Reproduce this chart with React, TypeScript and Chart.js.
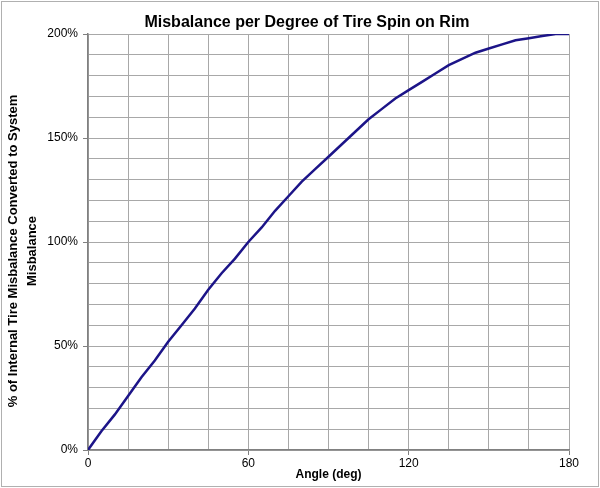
import React, { useEffect, useRef } from "react";
import { Chart, registerables } from "chart.js";

Chart.register(...registerables);

const angles = [0, 5, 10, 15, 20, 25, 30, 35, 40, 45, 50, 55, 60, 65, 70, 75, 80, 85, 90, 95, 100, 105, 110, 115, 120, 125, 130, 135, 140, 145, 150, 155, 160, 165, 170, 175, 180];
const misbalance = [0, 9, 17, 26, 35, 43, 52, 60, 68, 77, 85, 92, 100, 107, 115, 122, 129, 135, 141, 147, 153, 159, 164, 169, 173, 177, 181, 185, 188, 191, 193, 195, 197, 198, 199, 200, 200];
const xLabeled = [0, 60, 120, 180];
const yLabeled = [0, 50, 100, 150, 200];
const titleText = "Misbalance per Degree of Tire Spin on Rim";
const xTitle = "Angle (deg)";
const yTitle = ["% of Internal Tire Misbalance Converted to System", "Misbalance"];

const FONT = "'Liberation Sans', Arial, sans-serif";

const decorPlugin = {
  id: "decor",
  afterDraw(chart: any) {
    const ctx = chart.ctx;
    ctx.save();
    // outer border
    ctx.strokeStyle = "#b0b0b0";
    ctx.lineWidth = 1;
    ctx.strokeRect(1.5, 1.5, chart.width - 3, chart.height - 3);
    // chart title
    ctx.fillStyle = "#000";
    ctx.font = `bold 16px ${FONT}`;
    ctx.textAlign = "center";
    ctx.textBaseline = "alphabetic";
    ctx.fillText(titleText, 307, 27);
    // y axis title (two rotated lines)
    ctx.font = `bold 13px ${FONT}`;
    const cy = 251;
    const baselines = [17, 36];
    yTitle.forEach((line, i) => {
      ctx.save();
      ctx.translate(baselines[i], cy);
      ctx.rotate(-Math.PI / 2);
      ctx.fillText(line, 0, 0);
      ctx.restore();
    });
    ctx.restore();
  },
};

export default function App() {
  const ref = useRef<HTMLCanvasElement>(null);
  useEffect(() => {
    if (!ref.current) return;
    const chart = new Chart(ref.current, {
      type: "line",
      data: {
        datasets: [
          {
            data: angles.map((a, i) => ({ x: a, y: misbalance[i] })),
            borderColor: "#1c1488",
            borderWidth: 2.5,
            pointRadius: 0,
            tension: 0,
            fill: false,
          },
        ],
      },
      options: {
        animation: false,
        responsive: false,
        devicePixelRatio: 1,
        layout: { padding: { top: 34, left: 2, right: 31, bottom: 2 } },
        plugins: {
          legend: { display: false },
          tooltip: { enabled: false },
          title: { display: false },
        },
        scales: {
          x: {
            type: "linear",
            min: 0,
            max: 180,
            afterFit: (s: any) => {
              s.height = 36;
            },
            ticks: {
              stepSize: 15,
              autoSkip: false,
              maxRotation: 0,
              padding: 1,
              color: "#000",
              font: { family: FONT, size: 12 },
              callback: (v: any) => (xLabeled.includes(Number(v)) ? String(v) : ""),
            },
            grid: {
              color: "#a8a8a8",
              lineWidth: 1,
              tickLength: 5,
              tickColor: (c: any) => (c.tick && xLabeled.includes(c.tick.value) ? "#808080" : "rgba(0,0,0,0)"),
            },
            border: { color: "#808080", width: 1.5 },
            title: {
              display: true,
              text: xTitle,
              color: "#000",
              font: { family: FONT, size: 12, weight: "bold" },
              padding: { top: 0, bottom: 4 },
            },
          },
          y: {
            type: "linear",
            min: 0,
            max: 200,
            afterFit: (s: any) => {
              s.width = 86;
            },
            ticks: {
              stepSize: 10,
              autoSkip: false,
              padding: 5,
              color: "#000",
              font: { family: FONT, size: 12 },
              callback: (v: any) => (yLabeled.includes(Number(v)) ? v + "%" : ""),
            },
            grid: {
              color: "#a8a8a8",
              lineWidth: 1,
              tickLength: 5,
              tickColor: (c: any) => (c.tick && yLabeled.includes(c.tick.value) ? "#808080" : "rgba(0,0,0,0)"),
            },
            border: { color: "#808080", width: 1.5 },
          },
        },
      },
      plugins: [decorPlugin],
    } as any);
    return () => chart.destroy();
  }, []);
  return (
    <div style={{ position: "absolute", left: 0, top: 0, width: 600, height: 488, background: "#fff" }}>
      <canvas ref={ref} width={600} height={488} style={{ width: 600, height: 488 }} />
    </div>
  );
}
